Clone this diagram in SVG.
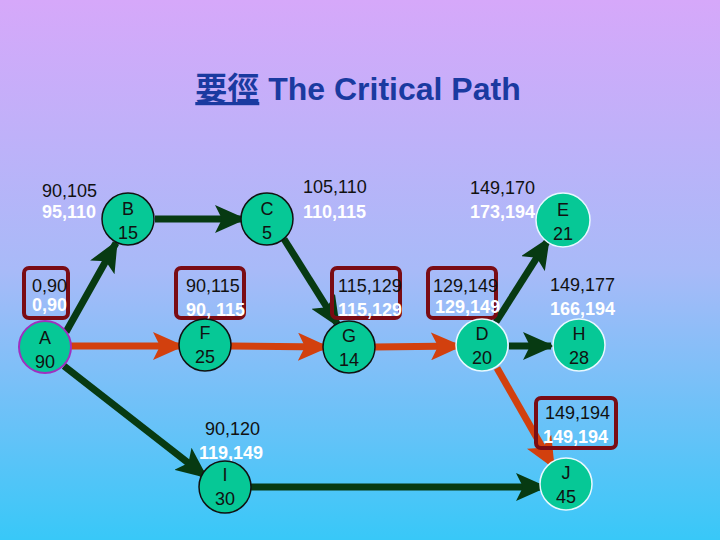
<svg xmlns="http://www.w3.org/2000/svg" width="720" height="540" viewBox="0 0 720 540">
<defs>
<linearGradient id="bg" x1="0" y1="0" x2="0" y2="1">
<stop offset="0" stop-color="#d6a8fa"/><stop offset="0.5" stop-color="#a8baf8"/><stop offset="1" stop-color="#38c8f8"/>
</linearGradient>
<marker id="mg" markerWidth="4.5" markerHeight="4" refX="4" refY="2" orient="auto" markerUnits="strokeWidth"><path d="M0,0 L4.5,2 L0,4 L1,2 Z" fill="#073a12"/></marker>
<marker id="mr" markerWidth="4.5" markerHeight="4" refX="4" refY="2" orient="auto" markerUnits="strokeWidth"><path d="M0,0 L4.5,2 L0,4 L1,2 Z" fill="#d2400e"/></marker>
<style>
.g{stroke:#073a12;stroke-width:7;fill:none;marker-end:url(#mg)}
.r{stroke:#d2400e;stroke-width:7;fill:none;marker-end:url(#mr)}
.n{fill:#06c896;stroke:#111;stroke-width:1.5}
.nw{fill:#06c896;stroke:#e8f8ff;stroke-width:1.5}
.t{font-family:"Liberation Sans",Arial,sans-serif;font-size:18px;fill:#111;text-anchor:middle}
.e{font-family:"Liberation Sans",Arial,sans-serif;font-size:18px;fill:#111}
.l{font-family:"Liberation Sans",Arial,sans-serif;font-size:18px;font-weight:bold;fill:#fff}
.b{fill:none;stroke:#7a0c14;stroke-width:4}
</style>
</defs>
<rect width="720" height="540" fill="url(#bg)"/>
<text x="358" y="100" text-anchor="middle" font-family="'Liberation Sans','Noto Sans CJK TC',sans-serif" font-size="32" font-weight="bold" fill="#1a3aa0"><tspan text-decoration="underline">要徑</tspan> The Critical Path</text>
<g id="connectors">
<line class="g" x1="66" y1="332" x2="116" y2="243"/>
<line class="g" x1="155" y1="219" x2="243" y2="219"/>
<line class="g" x1="284" y1="239" x2="338" y2="325"/>
<line class="r" x1="71" y1="346" x2="181" y2="346"/>
<line class="r" x1="231" y1="346" x2="326" y2="347"/>
<line class="r" x1="374" y1="347" x2="459" y2="346"/>
<line class="g" x1="496" y1="322" x2="548" y2="240"/>
<line class="g" x1="509" y1="346" x2="551" y2="346"/>
<line class="r" x1="497" y1="368" x2="553" y2="466"/>
<line class="g" x1="64" y1="366" x2="205" y2="476"/>
<line class="g" x1="251" y1="487" x2="544" y2="487"/>
</g>
<g id="A"><rect class="b" x="24" y="268" width="44" height="50" rx="5"/><text class="e" x="32" y="292">0,90</text><text class="l" x="32" y="311">0,90</text><circle cx="45" cy="347" r="26" fill="#06c896" stroke="#a030c0" stroke-width="2"/><text class="t" x="45" y="344">A</text><text class="t" x="45" y="368">90</text></g>
<g id="B"><text class="e" x="42" y="197">90,105</text><text class="l" x="42" y="218">95,110</text><circle class="n" cx="128" cy="219" r="26"/><text class="t" x="128" y="215">B</text><text class="t" x="128" y="239">15</text></g>
<g id="C"><circle class="n" cx="267" cy="219" r="26"/><text class="t" x="267" y="215">C</text><text class="t" x="267" y="239">5</text><text class="e" x="303" y="193">105,110</text><text class="l" x="303" y="218">110,115</text></g>
<g id="F"><rect class="b" x="176" y="268" width="68" height="50" rx="5"/><text class="e" x="186" y="292">90,115</text><text class="l" x="186" y="316">90, 115</text><circle class="n" cx="205" cy="345" r="26"/><text class="t" x="205" y="339">F</text><text class="t" x="205" y="363">25</text></g>
<g id="G"><rect class="b" x="332" y="268" width="68" height="50" rx="5"/><text class="e" x="338" y="292">115,129</text><text class="l" x="338" y="316">115,129</text><circle class="n" cx="349" cy="347" r="26"/><text class="t" x="349" y="342">G</text><text class="t" x="349" y="366">14</text></g>
<g id="D"><rect class="b" x="428" y="268" width="68" height="50" rx="5"/><text class="e" x="433" y="292">129,149</text><text class="l" x="435" y="313">129,149</text><circle class="nw" cx="482" cy="345" r="26"/><text class="t" x="482" y="340">D</text><text class="t" x="482" y="364">20</text></g>
<g id="E"><text class="e" x="470" y="194">149,170</text><text class="l" x="470" y="218">173,194</text><circle class="nw" cx="563" cy="220" r="27"/><text class="t" x="563" y="216">E</text><text class="t" x="563" y="240">21</text></g>
<g id="H"><text class="e" x="550" y="291">149,177</text><text class="l" x="550" y="315">166,194</text><circle class="nw" cx="579" cy="345" r="26"/><text class="t" x="579" y="340">H</text><text class="t" x="579" y="364">28</text></g>
<g id="I"><text class="e" x="205" y="435">90,120</text><text class="l" x="199" y="459">119,149</text><circle class="n" cx="225" cy="487" r="26"/><text class="t" x="225" y="481">I</text><text class="t" x="225" y="505">30</text></g>
<g id="J"><rect class="b" x="536" y="398" width="80" height="50" rx="5"/><text class="e" x="545" y="419">149,194</text><text class="l" x="543" y="443">149,194</text><circle class="nw" cx="566" cy="484" r="26"/><text class="t" x="566" y="479">J</text><text class="t" x="566" y="503">45</text></g>
</svg>
